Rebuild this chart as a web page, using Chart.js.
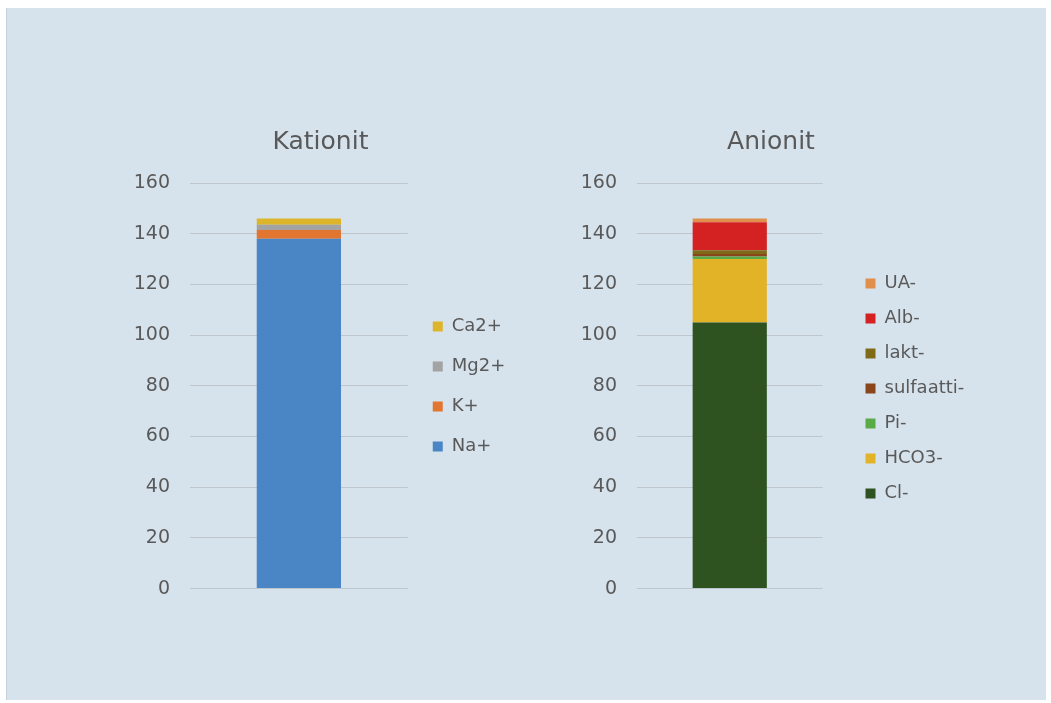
<!DOCTYPE html>
<html>
<head>
<meta charset="utf-8">
<script src="https://cdn.jsdelivr.net/npm/chart.js@4"></script>
<style>
  body { margin: 0; background: #fff; width: 1051px; height: 703px; position: relative; overflow: hidden; }
  #panel { position: absolute; left: 6px; top: 8px; width: 1039px; height: 692px; background: #d7e3ec; border-left: 1px solid #c6d0d9; }
  canvas { position: absolute; }
  #kationit { left: 110px; top: 100px; }
  #anionit { left: 560px; top: 100px; }
</style>
</head>
<body>
<div id="panel"></div>
<canvas id="kationit" width="407" height="520"></canvas>
<canvas id="anionit" width="410" height="520"></canvas>
<script>
// cations, stacked bottom to top
const cationLabels = ["Na+", "K+", "Mg2+", "Ca2+"];
const cationValues = [138, 3.5, 2, 2.5];
const cationColors = ["#4a86c6", "#e2752f", "#a3a3a3", "#ddb52a"];

// anions, stacked bottom to top
const anionLabels = ["Cl-", "HCO3-", "Pi-", "sulfaatti-", "lakt-", "Alb-", "UA-"];
const anionValues = [105, 25, 1, 1, 1.5, 11, 1.5];
const anionColors = ["#2f5221", "#e2b326", "#5aab47", "#8a451a", "#7f6a18", "#d42222", "#e0904c"];

const yMin = 0;
const yMax = 160;
const yStep = 20;

const textColor = "#595959";
const gridColor = "#bfc6cc";

Chart.defaults.font.family = "'DejaVu Sans', sans-serif";
Chart.defaults.color = textColor;

// moves title and legend after layout; legend box is widened to the canvas edge so nothing is clipped
const shiftBoxes = {
  id: "shiftBoxes",
  afterLayout(chart, args, opts) {
    const legend = chart.legend;
    const title = chart.titleBlock;
    if (legend) {
      legend.left += opts.legendX || 0;
      legend.right = chart.width;
      legend.top += opts.legendY || 0;
      legend.bottom += opts.legendY || 0;
    }
    if (title && opts.titleX) {
      title.left += opts.titleX;
      title.right += opts.titleX;
    }
  }
};

function makeChart(id, titleText, labels, values, colors, cfg) {
  const ctx = document.getElementById(id).getContext("2d");
  return new Chart(ctx, {
    type: "bar",
    data: {
      labels: [""],
      datasets: labels.map((label, i) => ({
        label: label,
        data: [values[i]],
        backgroundColor: colors[i],
        borderWidth: 0,
        barPercentage: cfg.barPct,
        categoryPercentage: 1
      }))
    },
    options: {
      responsive: false,
      animation: false,
      devicePixelRatio: 1,
      layout: { padding: { left: 0, top: 0, right: cfg.padRight, bottom: 31 } },
      scales: {
        x: { stacked: true, display: false },
        y: {
          stacked: true,
          min: yMin,
          max: yMax,
          ticks: { stepSize: yStep, padding: 20, color: textColor, font: { size: 19 } },
          grid: { color: gridColor, lineWidth: 1, drawTicks: false },
          border: { display: false },
          afterFit: (scale) => { scale.width = cfg.axisWidth; }
        }
      },
      plugins: {
        title: {
          display: true,
          text: titleText,
          color: textColor,
          font: { size: 25, weight: "normal" },
          padding: { top: 27, bottom: 26 }
        },
        legend: {
          position: "right",
          align: "center",
          reverse: true,
          labels: {
            boxWidth: 10,
            boxHeight: 10,
            padding: cfg.legendPad,
            color: textColor,
            font: { size: 18 }
          }
        },
        tooltip: { enabled: false },
        shiftBoxes: { legendX: cfg.legendX, legendY: cfg.legendY, titleX: cfg.titleX }
      }
    },
    plugins: [shiftBoxes]
  });
}

makeChart("kationit", "Kationit", cationLabels, cationValues, cationColors,
  { barPct: 0.387, padRight: 10, axisWidth: 80, legendPad: 22, legendX: 3, legendY: 42, titleX: 12 });

makeChart("anionit", "Anionit", anionLabels, anionValues, anionColors,
  { barPct: 0.4, padRight: 60, axisWidth: 77, legendPad: 17, legendX: 26, legendY: 44, titleX: 36 });
</script>
</body>
</html>
